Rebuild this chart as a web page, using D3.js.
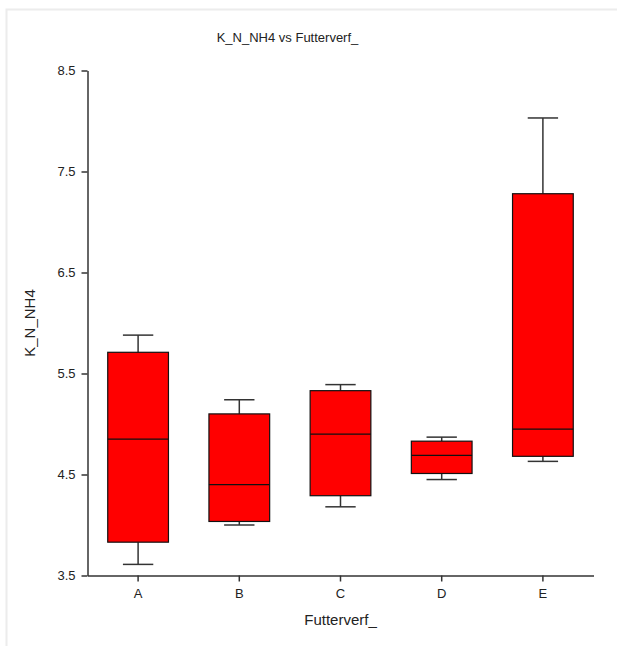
<!DOCTYPE html>
<html>
<head>
<meta charset="utf-8">
<script src="https://cdn.jsdelivr.net/npm/d3@7"></script>
<style>
  html, body { margin: 0; padding: 0; background: #ffffff; }
  svg { display: block; }
  text { font-family: "Liberation Sans", Arial, sans-serif; fill: #222; }
</style>
</head>
<body>
<svg id="chart" width="617" height="646"></svg>
<script>
// Group labels and five-number summaries of K_N_NH4 per feeding regime
const groups     = ["A", "B", "C", "D", "E"];
const whiskerLow = [3.61, 4.00, 4.18, 4.45, 4.63];
const quart1     = [3.83, 4.035, 4.29, 4.51, 4.68];
const medians    = [4.85, 4.40, 4.90, 4.69, 4.95];
const quart3     = [5.71, 5.10, 5.33, 4.83, 7.28];
const whiskerHigh= [5.88, 5.24, 5.39, 4.87, 8.03];
const yTicks     = [3.5, 4.5, 5.5, 6.5, 7.5, 8.5];

const svg = d3.select("#chart");

// light frame around the plot page
svg.append("path")
  .attr("d", "M6.5,646 V9.5 H617")
  .attr("fill", "none")
  .attr("stroke", "#ececec")
  .attr("stroke-width", 2);

const x = d3.scaleBand().domain(groups).range([87.5, 593.5]).padding(0);
const y = d3.scaleLinear().domain([3.5, 8.5]).range([575.5, 70.5]);

const boxW = x.bandwidth() * 0.6;
const capW = x.bandwidth() * 0.3;

const data = groups.map((g, i) => ({
  g, lo: whiskerLow[i], q1: quart1[i], med: medians[i], q3: quart3[i], hi: whiskerHigh[i]
}));

const boxes = svg.append("g").selectAll("g").data(data).join("g")
  .attr("transform", d => `translate(${x(d.g) + x.bandwidth() / 2},0)`);

// whiskers
boxes.append("line")
  .attr("x1", 0).attr("x2", 0)
  .attr("y1", d => y(d.hi)).attr("y2", d => y(d.q3))
  .attr("stroke", "#333").attr("stroke-width", 1.5);
boxes.append("line")
  .attr("x1", 0).attr("x2", 0)
  .attr("y1", d => y(d.q1)).attr("y2", d => y(d.lo))
  .attr("stroke", "#333").attr("stroke-width", 1.5);
boxes.append("line")
  .attr("x1", -capW / 2).attr("x2", capW / 2)
  .attr("y1", d => y(d.hi)).attr("y2", d => y(d.hi))
  .attr("stroke", "#333").attr("stroke-width", 1.5);
boxes.append("line")
  .attr("x1", -capW / 2).attr("x2", capW / 2)
  .attr("y1", d => y(d.lo)).attr("y2", d => y(d.lo))
  .attr("stroke", "#333").attr("stroke-width", 1.5);

// interquartile boxes
boxes.append("rect")
  .attr("x", -boxW / 2).attr("width", boxW)
  .attr("y", d => y(d.q3)).attr("height", d => y(d.q1) - y(d.q3))
  .attr("fill", "#ff0000").attr("stroke", "#111").attr("stroke-width", 1.2);

// medians
boxes.append("line")
  .attr("x1", -boxW / 2).attr("x2", boxW / 2)
  .attr("y1", d => y(d.med)).attr("y2", d => y(d.med))
  .attr("stroke", "#111").attr("stroke-width", 1.2);

// axes
const yAxis = svg.append("g")
  .attr("transform", "translate(87.5,0)")
  .call(d3.axisLeft(y).tickValues(yTicks).tickFormat(d3.format(".1f")).tickSize(6).tickSizeOuter(0).tickPadding(6));
const xAxis = svg.append("g")
  .attr("transform", "translate(0,575.5)")
  .call(d3.axisBottom(x).tickSize(6).tickSizeOuter(0).tickPadding(7));

[yAxis, xAxis].forEach(a => {
  a.select(".domain").attr("stroke", "#333").attr("stroke-width", 1.5);
  a.selectAll(".tick line").attr("stroke", "#333").attr("stroke-width", 1.5);
  a.selectAll(".tick text").attr("font-size", 13).attr("font-family", "Liberation Sans, Arial, sans-serif").attr("fill", "#222");
});

// titles
svg.append("text")
  .attr("x", 287.5).attr("y", 42)
  .attr("text-anchor", "middle")
  .attr("font-size", 13)
  .text("K_N_NH4 vs Futterverf_");

svg.append("text")
  .attr("x", 340.5).attr("y", 625)
  .attr("text-anchor", "middle")
  .attr("font-size", 15)
  .text("Futterverf_");

svg.append("text")
  .attr("transform", "translate(35,323) rotate(-90)")
  .attr("text-anchor", "middle")
  .attr("font-size", 15)
  .text("K_N_NH4");
</script>
</body>
</html>
